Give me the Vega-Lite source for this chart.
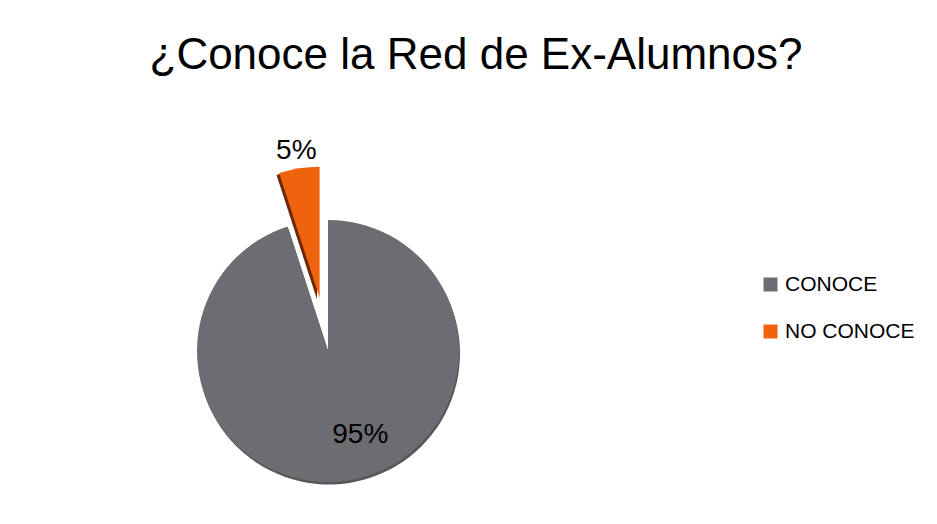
{
  "$schema": "https://vega.github.io/schema/vega-lite/v6.json",
  "width": 262,
  "height": 262,
  "autosize": {"type": "none"},
  "padding": {"left": 197, "top": 220, "right": 478, "bottom": 42},
  "background": "white",
  "config": {"view": {"stroke": null}, "font": "Liberation Sans"},
  "title": {
    "text": "¿Conoce la Red de Ex-Alumnos?",
    "fontSize": 44,
    "fontWeight": "normal",
    "font": "Liberation Sans",
    "color": "#000000",
    "anchor": "middle",
    "baseline": "alphabetic",
    "dx": 148,
    "offset": 24
  },
  "data": {
    "values": [
      {"categoria": "CONOCE", "porcentaje": 95, "orden": 1, "etiqueta": "95%"},
      {"categoria": "NO CONOCE", "porcentaje": 5, "orden": 2, "etiqueta": "5%"}
    ]
  },
  "layer": [
    {
      "transform": [
        {"stack": "porcentaje", "groupby": [], "sort": [{"field": "orden"}], "as": ["inicio", "fin"]},
        {"filter": "datum.categoria == 'CONOCE'"}
      ],
      "mark": {"type": "arc", "radius": 131, "fill": "#3a3a3c", "opacity": 0.85, "xOffset": 1, "yOffset": 2.5},
      "encoding": {
        "theta": {"field": "inicio", "type": "quantitative", "scale": {"domain": [0, 100]}},
        "theta2": {"field": "fin"}
      }
    },
    {
      "transform": [
        {"stack": "porcentaje", "groupby": [], "sort": [{"field": "orden"}], "as": ["inicio", "fin"]},
        {"filter": "datum.categoria == 'CONOCE'"}
      ],
      "mark": {"type": "arc", "radius": 131},
      "encoding": {
        "theta": {"field": "inicio", "type": "quantitative", "scale": {"domain": [0, 100]}},
        "theta2": {"field": "fin"},
        "color": {
          "field": "categoria",
          "type": "nominal",
          "scale": {"domain": ["CONOCE", "NO CONOCE"], "range": ["#6c6d71", "#ef620e"]},
          "legend": {
            "orient": "none",
            "legendX": 563,
            "legendY": 54,
            "title": null,
            "symbolType": "square",
            "symbolSize": 196,
            "symbolStrokeWidth": 0,
            "symbolOpacity": 1,
            "labelFontSize": 21,
            "labelFont": "Liberation Sans",
            "labelColor": "#000000",
            "labelOffset": 4,
            "rowPadding": 25,
            "padding": 0
          }
        }
      }
    },
    {
      "transform": [
        {"stack": "porcentaje", "groupby": [], "sort": [{"field": "orden"}], "as": ["inicio", "fin"]},
        {"filter": "datum.categoria == 'NO CONOCE'"}
      ],
      "mark": {"type": "arc", "radius": 131, "fill": "#6a2a06", "xOffset": -11, "yOffset": -51.5},
      "encoding": {
        "theta": {"field": "inicio", "type": "quantitative", "scale": {"domain": [0, 100]}},
        "theta2": {"field": "fin"}
      }
    },
    {
      "transform": [
        {"stack": "porcentaje", "groupby": [], "sort": [{"field": "orden"}], "as": ["inicio", "fin"]},
        {"filter": "datum.categoria == 'NO CONOCE'"}
      ],
      "mark": {"type": "arc", "radius": 131, "xOffset": -8.4, "yOffset": -53.3},
      "encoding": {
        "theta": {"field": "inicio", "type": "quantitative", "scale": {"domain": [0, 100]}},
        "theta2": {"field": "fin"},
        "color": {"field": "categoria", "type": "nominal"}
      }
    },
    {
      "mark": {"type": "text", "radius": 85, "dx": 19, "fontSize": 28, "font": "Liberation Sans", "color": "#000000"},
      "encoding": {
        "theta": {"field": "porcentaje", "type": "quantitative", "stack": true, "scale": {"domain": [0, 100]}},
        "order": {"field": "orden"},
        "text": {"condition": {"test": "datum.categoria == 'CONOCE'", "field": "etiqueta"}, "value": ""}
      }
    },
    {
      "mark": {"type": "text", "radius": 149, "dx": -8.4, "dy": -53.3, "fontSize": 28, "font": "Liberation Sans", "color": "#000000"},
      "encoding": {
        "theta": {"field": "porcentaje", "type": "quantitative", "stack": true, "scale": {"domain": [0, 100]}},
        "order": {"field": "orden"},
        "text": {"condition": {"test": "datum.categoria == 'NO CONOCE'", "field": "etiqueta"}, "value": ""}
      }
    }
  ]
}
